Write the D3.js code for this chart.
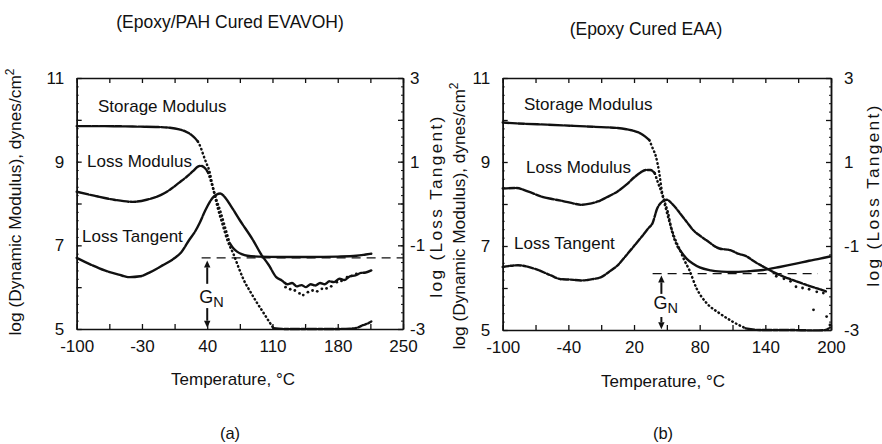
<!DOCTYPE html>
<html><head><meta charset="utf-8">
<script src="https://cdn.jsdelivr.net/npm/d3@7"></script>
<style>
body{margin:0;background:#fff;}
svg text{font-family:"Liberation Sans",Arial,Helvetica,sans-serif;fill:#111;}
</style></head><body>
<svg id="chart" width="882" height="444"></svg>
<script>
// ================= DATA =================
const panelTitles = ["(Epoxy/PAH Cured EVAVOH)", "(Epoxy Cured EAA)"];
const panelTags = ["(a)", "(b)"];
const seriesNames = ["Storage Modulus", "Loss Modulus", "Loss Tangent"];
const xTitle = "Temperature, \u00B0C";
const yLeftTitle = "log (Dynamic Modulus), dynes/cm";
const yRightTitle = "log (Loss Tangent)";

const tempDomainA = [-100, 250];
const tempLabelsA = [-100, -30, 40, 110, 180, 250];
const tempTicksA = [-100, -65, -30, 5, 40, 75, 110, 145, 180, 215, 250];
const tempDomainB = [-100, 200];
const tempLabelsB = [-100, -40, 20, 80, 140, 200];
const tempTicksB = [-100, -70, -40, -10, 20, 50, 80, 110, 140, 170, 200];
const modulusDomain = [5, 11];
const modulusLabels = [5, 7, 9, 11];
const modulusTicks = [5, 6, 7, 8, 9, 10, 11];
const tangentDomain = [-3, 3];
const tangentLabels = [-3, -1, 1, 3];

// ---- Panel (a): log modulus [temp °C, log dynes/cm2]
const storageA_glassy = [[-100,9.85],[-70,9.85],[-40,9.84],[-15,9.83],[0,9.81],[10,9.77],[17,9.72],[23,9.64],[27,9.56],[30,9.48]];
const storageA_drop = [[30,9.48],[33,9.34],[36,9.15],[39,8.97],[42,8.8],[46,8.4],[50,8.08],[54,7.82],[59,7.44],[64,7.06]];
const storageA_rubbery = [[64,7.06],[68,6.93],[72,6.85],[77,6.79],[83,6.75],[95,6.73],[120,6.72],[150,6.72],[180,6.73],[200,6.75],[210,6.78],[216,6.8]];
const lossModA_main = [[-100,8.28],[-80,8.18],[-60,8.09],[-40,8.04],[-25,8.09],[-10,8.2],[0,8.33],[10,8.5],[18,8.64],[25,8.78],[30,8.88],[33,8.9],[37,8.86],[41,8.74]];
const lossModA_drop = [[41,8.74],[46,8.38],[51,7.92],[57,7.46],[62,7.1],[68,6.8],[74,6.45],[79,6.18],[86,5.9],[93,5.64],[100,5.4],[106,5.19],[111,5.02]];
const lossModA_flow = [[111,5.02],[125,5.0],[150,5.0],[175,5.0],[195,5.01],[202,5.04],[207,5.09],[212,5.13],[216,5.18]];
// log tan delta [temp, log tan]
const tanA = [[-100,-1.30],[-85,-1.46],[-70,-1.6],[-55,-1.7],[-43,-1.76],[-32,-1.74],[-21,-1.64],[-8,-1.48],[4,-1.32],[12,-1.17],[21,-0.86],[27,-0.67],[32,-0.46],[38,-0.16],[46,0.14],[54,0.24],[60,0.12],[66,-0.08],[75,-0.4],[89,-0.87],[98,-1.22],[106,-1.47],[114,-1.76],[120,-1.84],[126,-1.93],[131,-1.9],[136,-1.98],[141,-1.95],[146,-2.0],[151,-1.93],[156,-1.96],[161,-1.9],[166,-1.93],[171,-1.86],[176,-1.88],[182,-1.8],[187,-1.83],[193,-1.74],[199,-1.72],[205,-1.66],[210,-1.65],[216,-1.6]];
const tanA_scatter = [[124,-2.0],[129,-2.05],[134,-2.08],[139,-2.15],[143,-2.19],[148,-2.12],[153,-2.08],[158,-2.1],[163,-2.04],[168,-2.03],[173,-1.98],[179,-1.88],[184,-1.85],[190,-1.76],[195,-1.73],[200,-1.68]];
// plateau modulus annotation (a)
const gnA = {level: 6.7, from: 34, to: 250, temp: 40, upFrom: 6.08, upTip: 6.64, textBase: 5.62, downFrom: 5.5, downTip: 5.03};

// ---- Panel (b)
const storageB_glassy = [[-100,9.94],[-80,9.91],[-60,9.89],[-35,9.86],[-10,9.83],[5,9.81],[13,9.78],[20,9.74],[26,9.68],[30,9.61],[34,9.52]];
const storageB_drop = [[34,9.52],[37,9.33],[40,9.13],[43,8.75],[45.5,8.3],[48,8.05],[51,7.8],[54,7.42],[57,7.15],[60,6.98]];
const storageB_rubbery = [[60,6.98],[64,6.83],[68,6.7],[74,6.58],[80,6.49],[90,6.42],[100,6.39],[110,6.38],[125,6.4],[138,6.43],[153,6.5],[168,6.58],[180,6.65],[190,6.7],[199,6.75]];
const lossModB_main = [[-100,8.37],[-88,8.38],[-75,8.28],[-65,8.18],[-55,8.12],[-45,8.07],[-35,8.01],[-28,7.98],[-20,8.01],[-13,8.06],[-5,8.16],[5,8.3],[13,8.46],[20,8.63],[26,8.75],[31,8.81],[35,8.81],[39,8.73]];
const lossModB_drop = [[39,8.73],[42,8.5],[45.5,8.25],[49,7.9],[53,7.52],[57,7.2],[62,6.9],[66,6.66],[70.5,6.43],[77,6.0],[86,5.65],[98,5.4],[110,5.2],[122,5.04]];
const lossModB_flow = [[122,5.04],[135,5.0],[160,5.0],[185,4.99],[195,5.0],[199,5.06]];
const tanB = [[-100,-1.5],[-86,-1.46],[-71,-1.54],[-56,-1.7],[-47,-1.79],[-38,-1.8],[-28,-1.82],[-18,-1.79],[-10,-1.74],[-2,-1.6],[5,-1.46],[13,-1.22],[20,-1.0],[27,-0.78],[33,-0.58],[37,-0.45],[41,-0.12],[45,0.04],[50,0.1],[55,0.0],[62,-0.22],[68,-0.42],[74,-0.62],[80,-0.75],[86,-0.86],[98,-1.06],[108,-1.1],[115,-1.18],[123,-1.25],[130,-1.37],[138,-1.49],[145,-1.59],[153,-1.69],[161,-1.77],[169,-1.85],[178,-1.93],[185,-1.99],[192,-2.05],[197,-2.1]];
const tanB_scatter = [[150,-1.72],[157,-1.78],[163,-1.84],[168,-1.97],[174,-2.0],[180,-2.03],[187,-2.09],[193,-2.12],[184,-2.52],[196,-2.68],[199,-2.88]];
const gnB = {level: 6.34, from: 37, to: 188, temp: 45, upFrom: 5.86, upTip: 6.3, textBase: 5.5, downFrom: 5.31, downTip: 5.02};

// ================= DRAWING =================
const FONT = '"Liberation Sans", Arial, Helvetica, sans-serif';
const INK = "#111";
const svg = d3.select("#chart");

const panels = [
  {left: 76.7, right: 403, top: 78, bottom: 329, domain: tempDomainA, ticks: tempTicksA, labels: tempLabelsA,
   storage: [storageA_glassy, storageA_drop, storageA_rubbery], loss: [lossModA_main, lossModA_drop, lossModA_flow],
   tan: tanA, tanScatter: tanA_scatter, gn: gnA, rightPad: 7,
   title: {x: 230, y: 28}, tag: {x: 230, y: 439}, xt: {x: 233, y: 385},
   yl: {x: 15, y: 202}, yr: {x: 436, y: 206},
   names: [{x: 98, y: 112}, {x: 87, y: 167}, {x: 82, y: 242}]},
  {left: 502.7, right: 831, top: 78, bottom: 330, domain: tempDomainB, ticks: tempTicksB, labels: tempLabelsB,
   storage: [storageB_glassy, storageB_drop, storageB_rubbery], loss: [lossModB_main, lossModB_drop, lossModB_flow],
   tan: tanB, tanScatter: tanB_scatter, gn: gnB, rightPad: 13,
   title: {x: 646, y: 35}, tag: {x: 663, y: 439}, xt: {x: 663, y: 387},
   yl: {x: 459, y: 216}, yr: {x: 873, y: 195},
   names: [{x: 524, y: 110}, {x: 526, y: 173}, {x: 514, y: 249}]}
];

function styleAxis(sel){
  sel.attr("font-family", FONT).attr("font-size", 17);
  sel.selectAll("path.domain").attr("stroke", INK).attr("stroke-width", 1.5);
  sel.selectAll(".tick line").attr("stroke", INK).attr("stroke-width", 1.3);
  sel.selectAll("text").attr("fill", INK);
}

function arrow(g, xp, y0, y1){
  const dir = y1 < y0 ? -1 : 1;
  const head = 7;
  g.append("line").attr("x1", xp).attr("x2", xp).attr("y1", y0).attr("y2", y1 - dir*head)
    .attr("stroke", INK).attr("stroke-width", 2);
  g.append("path").attr("d", `M${xp},${y1} L${xp-3.2},${y1 - dir*head} L${xp+3.2},${y1 - dir*head} Z`).attr("fill", INK);
}

panels.forEach((p, i) => {
  const g = svg.append("g");
  const x = d3.scaleLinear().domain(p.domain).range([p.left, p.right]);
  const yM = d3.scaleLinear().domain(modulusDomain).range([p.bottom, p.top]);
  const yT = d3.scaleLinear().domain(tangentDomain).range([p.bottom, p.top]);
  const minor = d3.range(modulusDomain[0], modulusDomain[1] + 0.001, 0.2);

  // bottom axis ticks + labels
  g.append("g").attr("transform", `translate(0,${p.bottom})`)
    .call(d3.axisBottom(x).tickValues(p.ticks).tickSize(-5).tickSizeOuter(0).tickFormat("")).call(styleAxis);
  g.append("g").attr("transform", `translate(0,${p.bottom})`)
    .call(d3.axisBottom(x).tickValues(p.labels).tickSize(0).tickPadding(11).tickFormat(d => String(d)))
    .call(styleAxis).call(a => a.select(".domain").remove());
  // top axis
  g.append("g").attr("transform", `translate(0,${p.top})`)
    .call(d3.axisTop(x).tickValues(p.ticks).tickSize(-5).tickSizeOuter(0).tickFormat("")).call(styleAxis);
  // left axis
  g.append("g").attr("transform", `translate(${p.left},0)`)
    .call(d3.axisLeft(yM).tickValues(minor).tickSize(-2).tickSizeOuter(0).tickFormat("")).call(styleAxis)
    .selectAll(".tick line").attr("stroke-width", 1);
  g.append("g").attr("transform", `translate(${p.left},0)`)
    .call(d3.axisLeft(yM).tickValues(modulusTicks).tickSize(-5).tickSizeOuter(0).tickFormat("")).call(styleAxis);
  g.append("g").attr("transform", `translate(${p.left},0)`)
    .call(d3.axisLeft(yM).tickValues(modulusLabels).tickSize(0).tickPadding(12.5).tickFormat(d => String(d)))
    .call(styleAxis).call(a => a.select(".domain").remove());
  // right axis
  g.append("g").attr("transform", `translate(${p.right},0)`)
    .call(d3.axisRight(yT).tickValues(minor.map(v => v - 8)).tickSize(-2).tickSizeOuter(0).tickFormat("")).call(styleAxis)
    .selectAll(".tick line").attr("stroke-width", 1);
  g.append("g").attr("transform", `translate(${p.right},0)`)
    .call(d3.axisRight(yT).tickValues(modulusTicks.map(v => v - 8)).tickSize(-5).tickSizeOuter(0).tickFormat("")).call(styleAxis);
  g.append("g").attr("transform", `translate(${p.right},0)`)
    .call(d3.axisRight(yT).tickValues(tangentLabels).tickSize(0).tickPadding(p.rightPad).tickFormat(d => String(d)))
    .call(styleAxis).call(a => a.select(".domain").remove());

  // curves
  const lineM = d3.line().x(d => x(d[0])).y(d => yM(d[1])).curve(d3.curveMonotoneX);
  const lineT = d3.line().x(d => x(d[0])).y(d => yT(d[1])).curve(d3.curveMonotoneX);
  const solid = (sel) => sel.attr("fill", "none").attr("stroke", INK).attr("stroke-width", 2.4)
    .attr("stroke-linecap", "round").attr("stroke-linejoin", "round");
  const dotted = (sel) => sel.attr("fill", "none").attr("stroke", INK).attr("stroke-width", 2.5)
    .attr("stroke-linecap", "round").attr("stroke-dasharray", "0.5,3.6");

  g.append("path").datum(p.storage[0]).attr("d", lineM).call(solid).attr("stroke-dasharray", "14,1.5,6,1.5");
  g.append("path").datum(p.storage[1]).attr("d", lineM).call(dotted);
  g.append("path").datum(p.storage[2]).attr("d", lineM).call(solid);
  g.append("path").datum(p.loss[0]).attr("d", lineM).call(solid).attr("stroke-dasharray", "12,2,5,1.5");
  g.append("path").datum(p.loss[1]).attr("d", lineM).call(dotted);
  g.append("path").datum(p.loss[2]).attr("d", lineM).call(solid).attr("stroke-dasharray", "9,2,4,2");
  g.append("path").datum(p.tan).attr("d", lineT).call(solid).attr("stroke-dasharray", i === 0 ? "16,1.5" : "6,2,3,1.5");
  g.selectAll(null).data(p.tanScatter).join("circle")
    .attr("cx", d => x(d[0])).attr("cy", d => yT(d[1])).attr("r", 1.4).attr("fill", INK);

  // G_N plateau line and arrows
  g.append("line").attr("x1", x(p.gn.from)).attr("x2", x(p.gn.to))
    .attr("y1", yM(p.gn.level)).attr("y2", yM(p.gn.level))
    .attr("stroke", INK).attr("stroke-width", 1.3).attr("stroke-dasharray", "9,6");
  arrow(g, x(p.gn.temp), yM(p.gn.upFrom), yM(p.gn.upTip));
  arrow(g, x(p.gn.temp), yM(p.gn.downFrom), yM(p.gn.downTip));
  const gt = g.append("text").attr("x", x(p.gn.temp) - 8).attr("y", yM(p.gn.textBase)).attr("font-size", 18);
  gt.append("tspan").text("G");
  gt.append("tspan").attr("dy", 4).attr("font-size", 14.5).text("N");

  // series name labels
  seriesNames.forEach((n, k) => {
    g.append("text").attr("x", p.names[k].x).attr("y", p.names[k].y).attr("font-size", 17).text(n);
  });

  // titles
  g.append("text").attr("x", p.title.x).attr("y", p.title.y).attr("text-anchor", "middle")
    .attr("font-size", 17.5).text(panelTitles[i]);
  g.append("text").attr("x", p.xt.x).attr("y", p.xt.y).attr("text-anchor", "middle")
    .attr("font-size", 17).text(xTitle);
  g.append("text").attr("x", p.tag.x).attr("y", p.tag.y).attr("text-anchor", "middle")
    .attr("font-size", 16.5).text(panelTags[i]);
  const yl = g.append("text").attr("transform", `translate(${p.yl.x},${p.yl.y}) rotate(-90)`)
    .attr("text-anchor", "middle").attr("dy", "0.35em").attr("font-size", 17.3);
  yl.append("tspan").text(yLeftTitle);
  yl.append("tspan").attr("dy", -7).attr("font-size", 12).text("2");
  g.append("text").attr("transform", `translate(${p.yr.x},${p.yr.y}) rotate(-90)`)
    .attr("text-anchor", "middle").attr("dy", "0.35em").attr("font-size", 17.3)
    .attr("letter-spacing", 2.3).text(yRightTitle);
});
</script>
</body></html>
